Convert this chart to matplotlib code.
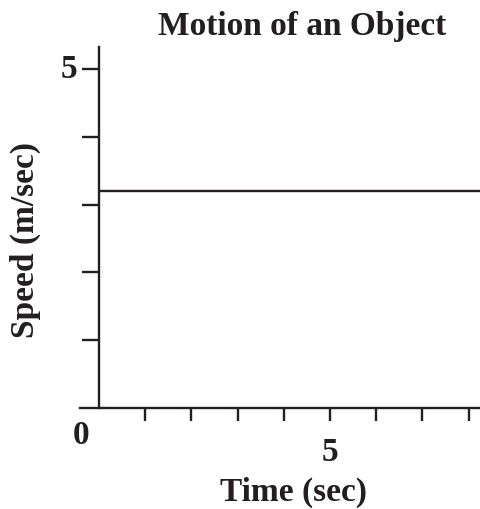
import matplotlib
matplotlib.use("Agg")
import matplotlib.pyplot as plt
import numpy as np

# data
time_vals = [0, 8.3]
speed_vals = [3.2, 3.2]
x_ticks = [1, 2, 3, 4, 5, 6, 7, 8]
y_ticks = [1, 2, 3, 4, 5]
x_labels = {0: "0", 5: "5"}
y_labels = {5: "5"}
title = "Motion of an Object"
xlabel = "Time (sec)"
ylabel = "Speed (m/sec)"

plt.rcParams['font.family'] = ['Liberation Serif', 'DejaVu Serif']
plt.rcParams['font.weight'] = 'bold'
plt.rcParams['text.color'] = '#231f20'

fig = plt.figure(figsize=(4.8, 5.1), dpi=100)
ax = fig.add_axes([80/480, 1 - 409/510, 400/480, 361/510])
ax.set_xlim(-19/46.2, 381/46.2)
ax.set_ylim(0, 361/67.8)

ax.plot(time_vals, speed_vals, color='#231f20', lw=1.7, solid_capstyle='butt')

for s in ['top', 'right']:
    ax.spines[s].set_visible(False)
ax.spines['left'].set_position(('data', 0))
ax.spines['left'].set_linewidth(1.7)
ax.spines['bottom'].set_linewidth(1.7)
ax.spines['left'].set_color('#231f20')
ax.spines['bottom'].set_color('#231f20')

ax.set_xticks(x_ticks)
ax.set_yticks(y_ticks)
ax.set_xticklabels([])
ax.set_yticklabels([])
ax.tick_params(axis='x', direction='out', length=9, width=1.7, color='#231f20')
ax.tick_params(axis='y', direction='out', length=12, width=1.7, color='#231f20')

fs = 24
for v, t in x_labels.items():
    if v == 0:
        ax.annotate(t, (v, 0), xytext=(-13, -19), textcoords='offset points',
                    ha='center', va='center', fontsize=fs, fontweight='bold')
    else:
        ax.annotate(t, (v, 0), xytext=(0, -31), textcoords='offset points',
                    ha='center', va='center', fontsize=fs, fontweight='bold')
for v, t in y_labels.items():
    ax.annotate(t, (0, v), xytext=(-22, 0), textcoords='offset points',
                ha='center', va='center', fontsize=fs, fontweight='bold')

fig.text(302/480, 1 - 26/510, title, ha='center', va='center', fontsize=fs, fontweight='bold')
fig.text(293/480, 1 - 492/510, xlabel, ha='center', va='center', fontsize=fs, fontweight='bold')
fig.text(25/480, 1 - 240/510, ylabel, ha='center', va='center', rotation=90, fontsize=fs, fontweight='bold')

fig.savefig("out.png", dpi=100)
